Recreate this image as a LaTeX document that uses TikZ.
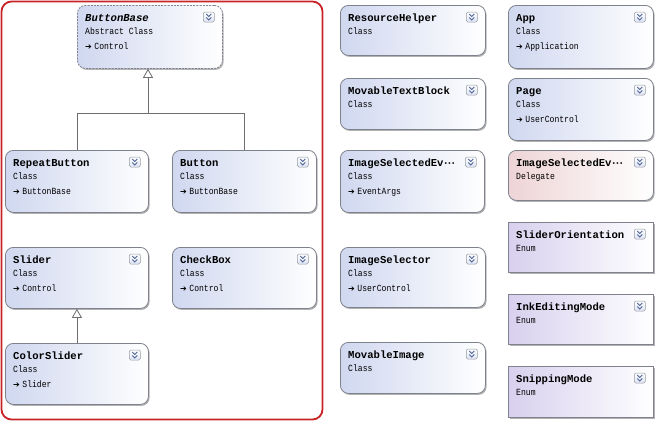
\documentclass[tikz,border=0pt]{standalone}
\usepackage{fontspec}
\setmonofont{Liberation Mono}
\newfontfamily\bodyfont{Liberation Mono}[FakeStretch=0.86]
\newfontfamily\djvfont{DejaVu Sans}
\usetikzlibrary{arrows.meta,shadows,calc}
\definecolor{clsL}{RGB}{208,216,240}
\definecolor{dlgL}{RGB}{238,212,214}
\definecolor{enmL}{RGB}{216,208,238}
\definecolor{bord}{RGB}{125,130,140}
\definecolor{frame}{RGB}{200,36,40}
\definecolor{conn}{RGB}{110,110,110}
\definecolor{chev}{RGB}{80,100,150}
\tikzset{
 boxbase/.style={draw=bord, line width=0.8pt, inner sep=0pt, drop shadow={shadow xshift=1.2pt, shadow yshift=-1.5pt, opacity=0.3, fill=black}},
 classbox/.style={boxbase, rounded corners=8pt, left color=clsL, right color=white},
 abstractbox/.style={classbox, dash pattern=on 2pt off 1.2pt},
 delegatebox/.style={boxbase, rounded corners=8pt, left color=dlgL, right color=white},
 enumbox/.style={boxbase, left color=enmL, right color=white},
 titletext/.style={font=\ttfamily\bfseries\fontsize{10.6}{12}\selectfont, inner sep=0pt, anchor=base west},
 bodytext/.style={font=\bodyfont\fontsize{9.4}{11}\selectfont, inner sep=0pt, anchor=base west},
 conline/.style={draw=conn, line width=0.8pt},
 genline/.style={conline, -{Triangle[length=9pt,width=10pt,fill=white]}},
 iconbox/.style={draw=bord!80, top color=white, bottom color=clsL!70, rounded corners=1.5pt, line width=0.5pt},
 iconchev/.style={draw=chev, line width=0.9pt},
}
\newcommand\colicon[1]{%
 \begin{scope}[shift={($(#1.north east)+(-14,12)$)}]
  \draw[iconbox] (-5.5,-5) rectangle (5.5,5);
  \draw[iconchev] (-2.5,-3)--(0,-0.5)--(2.5,-3) (-2.5,0.5)--(0,3)--(2.5,0.5);
 \end{scope}}
\newcommand\umlbox[9]{%
 \node[#2, minimum width=#5pt, minimum height=#6pt, anchor=north west] (#1) at (#3,#4) {};
 \node[titletext] (#1t) at ($(#1.north west)+(8,16)$) {#7};
 \node[bodytext] (#1k) at ($(#1.north west)+(8,29)$) {#8};
 \if\relax\detokenize{#9}\relax\else
  \node[bodytext] (#1a) at ($(#1.north west)+(8,44)$) {{\djvfont\fontsize{8}{9}\selectfont ➔}\kern2.5pt#9};
 \fi
 \colicon{#1}}
\newcommand\evdots{{\kern-1pt·\kern-2.6pt·\kern-2.6pt·}}
\begin{document}
\begin{tikzpicture}[x=1pt,y=-1pt]
\useasboundingbox (0,0) rectangle (661,423);
\draw[draw=frame, line width=1.8pt, rounded corners=10pt] (1.5,1.5) rectangle (322.5,419.5);
\umlbox{bb}{abstractbox}{77}{5}{145}{63}{\itshape ButtonBase}{Abstract Class}{Control}
\umlbox{rb}{classbox}{5}{150}{143}{62}{RepeatButton}{Class}{ButtonBase}
\umlbox{btn}{classbox}{172}{150}{144}{62}{Button}{Class}{ButtonBase}
\umlbox{sl}{classbox}{5}{247}{143}{61}{Slider}{Class}{Control}
\umlbox{chk}{classbox}{172}{247}{144}{61}{CheckBox}{Class}{Control}
\umlbox{cs}{classbox}{5}{343}{143}{61}{ColorSlider}{Class}{Slider}
\umlbox{rh}{classbox}{340}{5}{145}{50}{ResourceHelper}{Class}{}
\umlbox{mtb}{classbox}{340}{78}{145}{51}{MovableTextBlock}{Class}{}
\umlbox{isea}{classbox}{340}{150}{144}{62}{ImageSelectedEv\evdots}{Class}{EventArgs}
\umlbox{isel}{classbox}{340}{247}{145}{60}{ImageSelector}{Class}{UserControl}
\umlbox{mi}{classbox}{340}{342}{145}{51}{MovableImage}{Class}{}
\umlbox{app}{classbox}{508}{5}{145}{63}{App}{Class}{Application}
\umlbox{pg}{classbox}{508}{78}{145}{62}{Page}{Class}{UserControl}
\umlbox{iseh}{delegatebox}{508}{150}{145}{50}{ImageSelectedEv\evdots}{Delegate}{}
\umlbox{so}{enumbox}{508}{222}{145}{50}{SliderOrientation}{Enum}{}
\umlbox{iem}{enumbox}{508}{294}{145}{50}{InkEditingMode}{Enum}{}
\umlbox{snm}{enumbox}{508}{366}{145}{51}{SnippingMode}{Enum}{}
\coordinate (j1) at (148,113);
\draw[conline] (rb.north) |- (j1);
\draw[conline] (btn.north) |- (j1);
\draw[genline] (j1) -- (j1 |- bb.south);
\draw[genline] (cs.north) -- (sl.south);
\end{tikzpicture}
\end{document}
